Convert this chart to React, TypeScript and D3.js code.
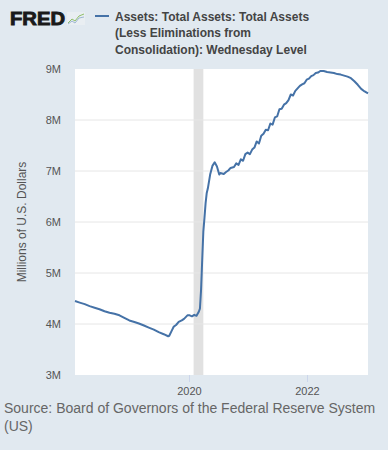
import * as d3 from "d3";

// weekly-ish readings, millions of U.S. dollars
const dates = [
  "2018-01-31", "2018-03-01", "2018-04-01", "2018-05-01", "2018-06-01", "2018-07-01",
  "2018-08-01", "2018-09-01", "2018-10-01", "2018-11-01", "2018-12-01", "2019-01-01",
  "2019-02-01", "2019-03-01", "2019-04-01", "2019-05-01", "2019-06-01", "2019-07-01",
  "2019-08-01", "2019-08-28", "2019-09-04", "2019-09-18", "2019-10-02", "2019-10-16",
  "2019-11-01", "2019-11-20", "2019-12-04", "2019-12-25", "2020-01-08", "2020-01-22",
  "2020-02-05", "2020-02-19", "2020-03-04", "2020-03-11", "2020-03-18", "2020-03-25",
  "2020-04-01", "2020-04-08", "2020-04-15", "2020-04-22", "2020-04-29", "2020-05-13",
  "2020-05-27", "2020-06-10", "2020-06-24", "2020-07-08", "2020-07-15", "2020-08-05",
  "2020-08-19", "2020-09-02", "2020-09-16", "2020-10-07", "2020-10-21", "2020-11-04",
  "2020-11-18", "2020-12-02", "2020-12-16", "2020-12-30", "2021-01-13", "2021-01-27",
  "2021-02-10", "2021-02-24", "2021-03-10", "2021-03-24", "2021-04-07", "2021-04-21",
  "2021-05-05", "2021-05-19", "2021-06-02", "2021-06-16", "2021-06-30", "2021-07-14",
  "2021-07-28", "2021-08-11", "2021-08-25", "2021-09-08", "2021-09-22", "2021-10-06",
  "2021-10-20", "2021-11-03", "2021-11-17", "2021-12-01", "2021-12-15", "2021-12-29",
  "2022-01-12", "2022-01-26", "2022-02-09", "2022-02-23", "2022-03-09", "2022-03-23",
  "2022-04-13", "2022-05-04", "2022-05-25", "2022-06-15", "2022-07-06", "2022-07-27",
  "2022-08-17", "2022-09-07", "2022-09-28", "2022-10-19", "2022-11-09", "2022-11-30",
  "2022-12-21", "2023-01-11",
];
const assets = [
  4.45, 4.42, 4.39, 4.35, 4.32, 4.29,
  4.25, 4.22, 4.20, 4.17, 4.12, 4.07,
  4.04, 4.01, 3.97, 3.93, 3.89, 3.84,
  3.80, 3.76, 3.77, 3.86, 3.95, 3.98,
  4.04, 4.07, 4.10, 4.17, 4.17, 4.15,
  4.18, 4.16, 4.24, 4.30, 4.67, 5.25,
  5.81, 6.08, 6.37, 6.57, 6.66, 6.93,
  7.10, 7.17, 7.09, 6.93, 6.96, 6.94,
  6.98, 7.01, 7.06, 7.08, 7.15, 7.12,
  7.23, 7.20, 7.33, 7.36, 7.33, 7.42,
  7.46, 7.58, 7.54, 7.69, 7.73, 7.81,
  7.80, 7.93, 7.91, 8.05, 8.07, 8.21,
  8.22, 8.30, 8.33, 8.39, 8.50, 8.48,
  8.57, 8.62, 8.67, 8.70, 8.72, 8.79,
  8.81, 8.86, 8.88, 8.92, 8.93, 8.96,
  8.96, 8.94, 8.93, 8.92, 8.90, 8.89,
  8.87, 8.85, 8.82, 8.76, 8.69, 8.61,
  8.56, 8.52,
];
const yTicks = [3, 4, 5, 6, 7, 8, 9];
const xTicks = ["2020-01-01", "2022-01-01"];
const recession = ["2020-02-01", "2020-04-01"];
const titleLines = [
  "Assets: Total Assets: Total Assets",
  "(Less Eliminations from",
  "Consolidation): Wednesday Level",
];
const sourceLines = ["Source: Board of Governors of the Federal Reserve System", "(US)"];

const W = 388;
const H = 450;
const plot = { left: 75, right: 368, top: 69, bottom: 375 };
const font = "'Liberation Sans', Arial, Helvetica, sans-serif";

export default function App() {
  const parse = d3.timeParse("%Y-%m-%d");
  const pts = dates.map((d, i) => ({ date: parse(d) as Date, v: assets[i] }));

  const x = d3
    .scaleTime()
    .domain(d3.extent(pts, (d) => d.date) as [Date, Date])
    .range([plot.left, plot.right]);
  const y = d3.scaleLinear().domain([3, 9]).range([plot.bottom, plot.top]);

  const line = d3
    .line<{ date: Date; v: number }>()
    .x((d) => x(d.date))
    .y((d) => y(d.v));

  const r0 = x(parse(recession[0]) as Date);
  const r1 = x(parse(recession[1]) as Date);

  return (
    <svg
      width={W}
      height={H}
      style={{ position: "absolute", left: 0, top: 0, fontFamily: font }}
    >
      <rect x={0} y={0} width={W} height={H} fill="#e1e9f0" />

      {/* logo */}
      <text
        x={10}
        y={25}
        fontSize={18.5}
        fontWeight={900}
        fill="#1a1a1a"
        stroke="#1a1a1a"
        strokeWidth={0.9}
        textLength={55}
        lengthAdjust="spacingAndGlyphs"
      >
        FRED
      </text>
      <g transform="translate(67,12)">
        <rect x={0} y={0} width={18} height={13} fill="#e9eef2" />
        <polyline points="1,11 5,7 8,9 12,4 17,2" fill="none" stroke="#8fbf6a" strokeWidth={1} />
        <polyline points="1,12 5,9 8,11 12,6 17,5" fill="none" stroke="#9db6d3" strokeWidth={1} />
      </g>

      {/* legend */}
      <line x1={95} x2={109} y1={16} y2={16} stroke="#4572a7" strokeWidth={2} />
      {titleLines.map((t, i) => (
        <text key={t} x={115} y={21 + i * 16.3} fontSize={12} fontWeight="bold" fill="#444">
          {t}
        </text>
      ))}

      {/* plot area */}
      <rect
        x={plot.left}
        y={plot.top}
        width={plot.right - plot.left}
        height={plot.bottom - plot.top}
        fill="#fff"
      />
      <rect x={r0} y={plot.top} width={r1 - r0} height={plot.bottom - plot.top} fill="#e1e1e1" />
      {yTicks.slice(1, -1).map((t) => (
        <line
          key={t}
          x1={plot.left}
          x2={plot.right}
          y1={y(t)}
          y2={y(t)}
          stroke="#e6e6e6"
          strokeWidth={1}
        />
      ))}
      {yTicks.map((t) => (
        <text key={t} x={61} y={y(t) + 4} fontSize={11} textAnchor="end" fill="#555">
          {t}M
        </text>
      ))}
      {xTicks.map((t) => {
        const px = Math.round(x(parse(t) as Date)) + 0.5;
        return (
          <g key={t}>
            <line x1={px} x2={px} y1={plot.bottom} y2={plot.bottom + 7} stroke="#ccd6eb" />
            <text x={px} y={395} fontSize={11} textAnchor="middle" fill="#555">
              {t.slice(0, 4)}
            </text>
          </g>
        );
      })}
      <text
        transform={`translate(26,${(plot.top + plot.bottom) / 2}) rotate(-90)`}
        fontSize={12}
        textAnchor="middle"
        fill="#555"
      >
        Millions of U.S. Dollars
      </text>

      <path d={line(pts) ?? ""} fill="none" stroke="#4572a7" strokeWidth={2} strokeLinejoin="round" />

      {sourceLines.map((t, i) => (
        <text key={t} x={4} y={413 + i * 18} fontSize={14} fill="#666">
          {t}
        </text>
      ))}
    </svg>
  );
}
